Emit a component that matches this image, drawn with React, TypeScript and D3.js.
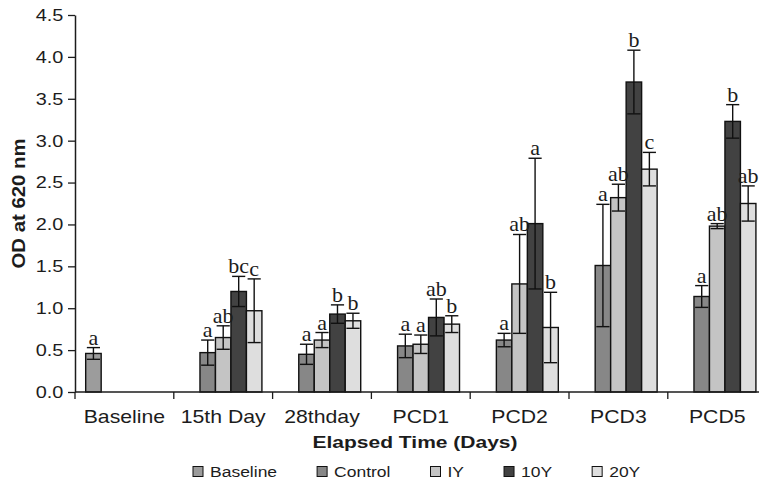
import React, { useRef, useEffect } from 'react';
import * as d3 from 'd3';

const categories = ['Baseline', '15th Day', '28thday', 'PCD1', 'PCD2', 'PCD3', 'PCD5'];
const seriesNames = ['Baseline', 'Control', 'IY', '10Y', '20Y'];
const seriesColors = ['#9c9c9c', '#878787', '#c4c4c4', '#424242', '#dedede'];

const baselineMean = [0.46, null, null, null, null, null, null];
const baselineErr = [0.07, null, null, null, null, null, null];
const baselineLetters = ['a', null, null, null, null, null, null];

const controlMean = [null, 0.47, 0.45, 0.55, 0.62, 1.51, 1.14];
const controlErr = [null, 0.15, 0.12, 0.14, 0.08, 0.73, 0.13];
const controlLetters = [null, 'a', 'a', 'a', 'a', 'a', 'a'];

const iyMean = [null, 0.65, 0.62, 0.57, 1.29, 2.32, 1.98];
const iyErr = [null, 0.14, 0.09, 0.11, 0.59, 0.16, 0.03];
const iyLetters = [null, 'ab', 'a', 'a', 'ab', 'ab', 'ab'];

const tenYMean = [null, 1.2, 0.93, 0.89, 2.01, 3.7, 3.23];
const tenYErr = [null, 0.18, 0.11, 0.22, 0.78, 0.38, 0.2];
const tenYLetters = [null, 'bc', 'b', 'ab', 'a', 'b', 'b'];

const twentyYMean = [null, 0.97, 0.85, 0.81, 0.77, 2.66, 2.25];
const twentyYErr = [null, 0.38, 0.09, 0.1, 0.42, 0.2, 0.21];
const twentyYLetters = [null, 'c', 'b', 'b', 'b', 'c', 'ab'];

const yTicks = [0, 0.5, 1, 1.5, 2, 2.5, 3, 3.5, 4, 4.5];

const series = [
  { name: seriesNames[0], mean: baselineMean, err: baselineErr, letters: baselineLetters, color: seriesColors[0] },
  { name: seriesNames[1], mean: controlMean, err: controlErr, letters: controlLetters, color: seriesColors[1] },
  { name: seriesNames[2], mean: iyMean, err: iyErr, letters: iyLetters, color: seriesColors[2] },
  { name: seriesNames[3], mean: tenYMean, err: tenYErr, letters: tenYLetters, color: seriesColors[3] },
  { name: seriesNames[4], mean: twentyYMean, err: twentyYErr, letters: twentyYLetters, color: seriesColors[4] },
];

const SANS = '"Liberation Sans", Arial, sans-serif';
const SERIF = '"Liberation Serif", "Times New Roman", serif';
const INK = '#1c1c1c';

const App = () => {
  const ref = useRef<SVGSVGElement>(null);

  useEffect(() => {
    const width = 759;
    const left = 75;
    const bottom = 392;
    const top = 15;

    const svg = d3.select(ref.current);
    svg.selectAll('*').remove();

    const x0 = d3.scaleBand<string>()
      .domain(categories)
      .range([left, left + 7 * 98.8])
      .padding(0);

    const x1 = d3.scaleBand<string>()
      .domain(seriesNames)
      .range([0, x0.bandwidth()])
      .paddingInner(0)
      .paddingOuter(0.69);

    const y = d3.scaleLinear().domain([0, 4.5]).range([bottom, top]);

    // bars
    const bars = series.flatMap(s =>
      categories.map((c, i) => ({ s, c, v: s.mean[i], e: s.err[i], l: s.letters[i] }))
    ).filter(d => d.v != null);

    const bw = x1.bandwidth();
    const g = svg.append('g');

    g.selectAll('rect.bar')
      .data(bars)
      .enter().append('rect')
      .attr('class', 'bar')
      .attr('x', d => x0(d.c)! + x1(d.s.name)!)
      .attr('y', d => y(d.v as number))
      .attr('width', bw)
      .attr('height', d => bottom - y(d.v as number))
      .attr('fill', d => d.s.color)
      .attr('stroke', '#111')
      .attr('stroke-width', 1.4);

    // error bars + letters
    const capW = bw * 0.85;
    bars.forEach(d => {
      const cx = x0(d.c)! + x1(d.s.name)! + bw / 2;
      const hi = y((d.v as number) + (d.e as number));
      const lo = y((d.v as number) - (d.e as number));
      const eg = g.append('g').attr('stroke', '#111').attr('stroke-width', 1.4);
      eg.append('line').attr('x1', cx).attr('x2', cx).attr('y1', hi).attr('y2', lo);
      eg.append('line').attr('x1', cx - capW / 2).attr('x2', cx + capW / 2).attr('y1', hi).attr('y2', hi);
      eg.append('line').attr('x1', cx - capW / 2).attr('x2', cx + capW / 2).attr('y1', lo).attr('y2', lo);
      if (d.l) {
        g.append('text')
          .attr('transform', `translate(${cx},${hi - 3}) scale(1.1,1)`)
          .attr('text-anchor', 'middle')
          .attr('font-family', SERIF)
          .attr('font-size', 20)
          .attr('fill', INK)
          .text(d.l);
      }
    });

    // y axis
    const yAxis = svg.append('g')
      .attr('transform', `translate(${left},0)`)
      .call(d3.axisLeft(y).tickValues(yTicks).tickFormat(d3.format('.1f')).tickSize(7).tickSizeOuter(0).tickPadding(3));
    yAxis.select('.domain').attr('stroke', INK).attr('stroke-width', 1.5);
    yAxis.selectAll('.tick line').attr('stroke', INK).attr('stroke-width', 1.3);
    yAxis.selectAll('.tick text')
      .attr('font-family', SANS)
      .attr('font-size', 17)
      .attr('fill', INK)
      .attr('transform', 'scale(1.17,1)');

    // x axis
    const xAxis = svg.append('g');
    xAxis.append('line')
      .attr('x1', left).attr('x2', width).attr('y1', bottom).attr('y2', bottom)
      .attr('stroke', INK).attr('stroke-width', 1.5);
    xAxis.selectAll('line.tk')
      .data(d3.range(categories.length + 1))
      .enter().append('line')
      .attr('class', 'tk')
      .attr('x1', i => left + i * x0.step()).attr('x2', i => left + i * x0.step())
      .attr('y1', bottom).attr('y2', bottom + 7)
      .attr('stroke', INK).attr('stroke-width', 1.3);
    xAxis.selectAll('text')
      .data(categories)
      .enter().append('text')
      .attr('transform', c => `translate(${x0(c)! + x0.bandwidth() / 2},423) scale(1.18,1)`)
      .attr('text-anchor', 'middle')
      .attr('font-family', SANS)
      .attr('font-size', 18)
      .attr('fill', INK)
      .text(c => c);

    // axis titles
    svg.append('text')
      .attr('x', 415).attr('y', 448)
      .attr('text-anchor', 'middle')
      .attr('font-family', SANS)
      .attr('font-weight', 'bold')
      .attr('font-size', 17)
      .attr('textLength', 205)
      .attr('lengthAdjust', 'spacingAndGlyphs')
      .attr('fill', INK)
      .text('Elapsed Time (Days)');

    svg.append('text')
      .attr('transform', `translate(25,${(top + bottom) / 2}) rotate(-90)`)
      .attr('text-anchor', 'middle')
      .attr('font-family', SANS)
      .attr('font-weight', 'bold')
      .attr('font-size', 18)
      .attr('textLength', 130)
      .attr('lengthAdjust', 'spacingAndGlyphs')
      .attr('fill', INK)
      .text('OD at 620 nm');

    // legend
    const legend = svg.append('g');
    let cursor = 193;
    series.forEach(s => {
      legend.append('rect')
        .attr('x', cursor).attr('y', 466.5)
        .attr('width', 10).attr('height', 10)
        .attr('fill', s.color)
        .attr('stroke', '#111').attr('stroke-width', 1);
      const t = legend.append('text')
        .attr('transform', `translate(${cursor + 17},476.5) scale(1.13,1)`)
        .attr('font-family', SANS)
        .attr('font-size', 15.5)
        .attr('fill', INK)
        .text(s.name);
      const w = (t.node() as SVGTextElement).getComputedTextLength() * 1.13;
      cursor += 17 + w + 40;
    });
  }, []);

  return (
    <svg
      ref={ref}
      width={759}
      height={483}
      style={{ position: 'absolute', left: 0, top: 0, background: '#fff' }}
    />
  );
};

export default App;
